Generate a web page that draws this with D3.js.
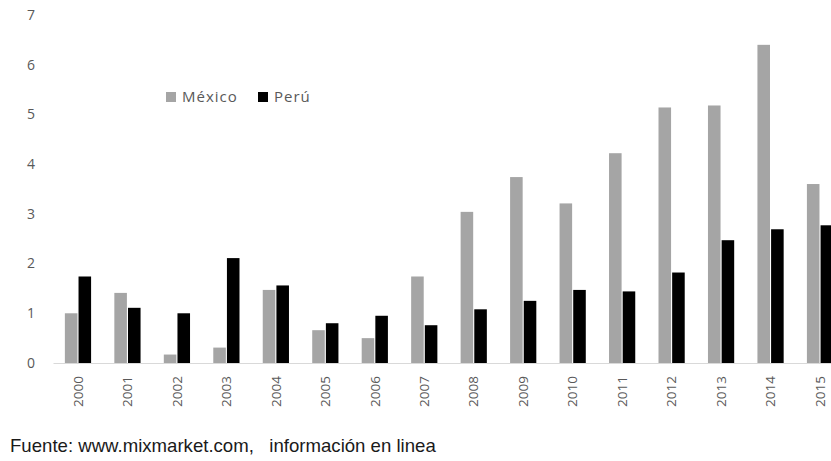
<!DOCTYPE html>
<html>
<head>
<meta charset="utf-8">
<script src="https://cdn.jsdelivr.net/npm/d3@7"></script>
<style>
  body { margin: 0; background: #fff; }
  svg { display: block; }
</style>
</head>
<body>
<div id="chart"></div>
<script>
// set width/height
const WIDTH = 831;
const HEIGHT = 461;

// data
const years = ["2000", "2001", "2002", "2003", "2004", "2005", "2006", "2007",
  "2008", "2009", "2010", "2011", "2012", "2013", "2014", "2015"];
const mexico = [1.00, 1.41, 0.17, 0.31, 1.47, 0.66, 0.50, 1.74,
  3.04, 3.74, 3.21, 4.22, 5.14, 5.18, 6.40, 3.60];
const peru = [1.74, 1.11, 1.00, 2.11, 1.56, 0.80, 0.95, 0.76,
  1.08, 1.25, 1.47, 1.44, 1.82, 2.47, 2.69, 2.77];
const seriesNames = ["México", "Perú"];
const yTicks = [0, 1, 2, 3, 4, 5, 6, 7];
const source = "Fuente: www.mixmarket.com,\u00a0\u00a0\u00a0información en linea";

const rows = years.map((y, i) => ({ year: y, values: [mexico[i], peru[i]] }));

let colors = d3.scaleOrdinal()
  .domain(seriesNames)
  .range(["#a5a5a5", "#000000"]);

let xScale = d3.scaleBand()
  .domain(years)
  .range([53, 845])
  .paddingInner(0.47)
  .paddingOuter(0.24);

let xInner = d3.scaleBand()
  .domain(seriesNames)
  .range([0, xScale.bandwidth()])
  .paddingInner(0.08);

let yScale = d3.scaleLinear()
  .domain([0, 7])
  .range([363, 15]);

let svg = d3.select("#chart")
  .append("svg")
  .attr("width", WIDTH)
  .attr("height", HEIGHT);

// y labels (no axis line)
svg.append("g")
  .selectAll("text")
  .data(yTicks)
  .join("text")
  .attr("x", 35)
  .attr("y", d => yScale(d))
  .attr("dy", "0.35em")
  .attr("text-anchor", "end")
  .attr("font-family", "Open Sans, sans-serif")
  .attr("font-size", 14)
  .attr("fill", "#595959")
  .text(d => d);

// bars
let groups = svg.append("g")
  .selectAll("g")
  .data(rows)
  .join("g")
  .attr("transform", d => "translate(" + xScale(d.year) + ",0)");

groups.selectAll("rect")
  .data(d => d.values.map((v, i) => ({ name: seriesNames[i], value: v })))
  .join("rect")
  .attr("x", d => xInner(d.name))
  .attr("y", d => yScale(d.value))
  .attr("width", xInner.bandwidth())
  .attr("height", d => yScale(0) - yScale(d.value))
  .attr("fill", d => colors(d.name));

// baseline
let xAxis = d3.axisBottom(xScale).tickSize(0).tickSizeOuter(0);
let gx = svg.append("g")
  .attr("transform", "translate(0," + yScale(0) + ")")
  .call(xAxis);
gx.select(".domain").attr("stroke", "#d9d9d9").attr("stroke-width", 1);
gx.selectAll("text")
  .attr("transform", "rotate(-90)")
  .attr("x", -13)
  .attr("y", 0)
  .attr("dy", "0.35em")
  .attr("text-anchor", "end")
  .attr("font-family", "Open Sans, sans-serif")
  .attr("font-size", 13.5)
  .attr("fill", "#595959");

// legend
let legend = svg.append("g");
const legendX = [166, 258];
seriesNames.forEach((name, i) => {
  legend.append("rect")
    .attr("x", legendX[i])
    .attr("y", 92)
    .attr("width", 10)
    .attr("height", 10)
    .attr("fill", colors(name));
  legend.append("text")
    .attr("x", legendX[i] + 16)
    .attr("y", 97)
    .attr("dy", "0.35em")
    .attr("font-family", "Open Sans, sans-serif")
    .attr("font-size", 15)
    .attr("letter-spacing", "1px")
    .attr("fill", "#595959")
    .text(name);
});

// source note
svg.append("text")
  .attr("x", 10)
  .attr("y", 452)
  .attr("font-family", "Liberation Sans, Arial, sans-serif")
  .attr("font-size", 18.6)
  .attr("fill", "#1a1a1a")
  .text(source);
</script>
</body>
</html>
